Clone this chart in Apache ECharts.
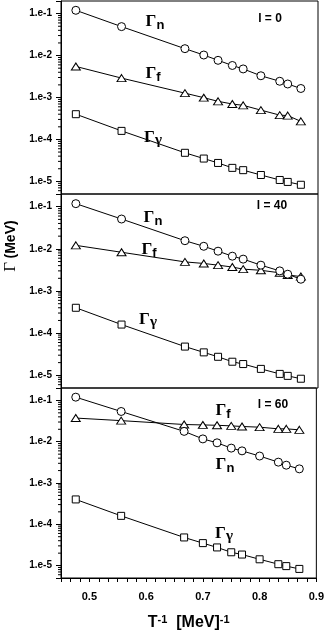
<!DOCTYPE html>
<html>
<head>
<meta charset="utf-8">
<script src="https://cdn.jsdelivr.net/npm/echarts@6/dist/echarts.min.js"></script>
<style>
  html, body { margin: 0; padding: 0; background: #fff; }
  #chart { width: 327px; height: 632px; }
</style>
</head>
<body>
<div id="chart"></div>
<script>
// inverse temperature, [MeV]^-1
const invT = [0.476, 0.556, 0.667, 0.700, 0.725, 0.750, 0.769, 0.800, 0.833, 0.847, 0.870]

// l = 0
const gammaN0 = [0.12, 0.049, 0.0146, 0.0103, 0.0077, 0.0058, 0.0048, 0.0033, 0.00244, 0.0021, 0.00164]
const gammaF0 = [0.0055, 0.0029, 0.00127, 0.00099, 0.00081, 0.0007, 0.00065, 0.0005, 0.00038, 0.00037, 0.00027]
// l = 40
const gammaN40 = [0.118, 0.051, 0.0156, 0.0115, 0.0088, 0.0067, 0.0057, 0.0041, 0.003, 0.0025, 0.0019]
const gammaF40 = [0.0121, 0.0083, 0.0049, 0.0045, 0.0041, 0.0037, 0.0033, 0.0031, 0.0027, 0.0024, 0.0022]
// l = 60
const gammaN60 = [0.12, 0.054, 0.0178, 0.0117, 0.0094, 0.007, 0.006, 0.0045, 0.0032, 0.0027, 0.0022]
const gammaF60 = [0.0374, 0.0324, 0.0261, 0.0255, 0.025, 0.0242, 0.0234, 0.0225, 0.0205, 0.0205, 0.0194]
// gamma width, same in every panel
const gammaG = [4.0e-4, 1.6e-4, 4.8e-5, 3.5e-5, 2.75e-5, 2.1e-5, 1.85e-5, 1.42e-5, 1.08e-5, 9.7e-6, 8.3e-6]

const spinLabels = ['l = 0', 'l = 40', 'l = 60']
const xTickLabels = ['0.5', '0.6', '0.7', '0.8', '0.9']

const yMin = 5e-6
const yMax = 0.2
const FONT = 'Liberation Sans'

const pair = arr => arr.map((v, i) => [invT[i], v])

// log minor ticks 2..9 x 10^d
const minorVals = []
for (let d = -6; d <= -1; d++) {
  for (let k = 2; k <= 9; k++) {
    const v = k * Math.pow(10, d)
    if (v > yMin && v < yMax) minorVals.push([0.45, v])
  }
}

const panels = [
  { n: gammaN0, f: gammaF0, g: gammaG },
  { n: gammaN40, f: gammaF40, g: gammaG },
  { n: gammaN60, f: gammaF60, g: gammaG }
]

const gridTops = [1, 194, 388]
const gridHeights = [193, 194, 194]

const grid = gridTops.map((t, i) => ({
  left: 61, right: 9, top: t, height: gridHeights[i],
  show: true, borderColor: '#000', borderWidth: 1, backgroundColor: 'transparent'
}))

const xAxis = gridTops.map((t, i) => {
  const last = i === 2
  return {
    type: 'value', gridIndex: i, min: 0.45, max: 0.9, interval: 1 / 60,
    show: true,
    axisLine: { show: last, onZero: false, lineStyle: { color: '#000', width: 1 } },
    axisTick: { show: last, length: 4, lineStyle: { color: '#000' } },
    splitLine: { show: false },
    axisLabel: {
      show: last, margin: 13, fontSize: 11, fontWeight: 'bold', fontFamily: FONT, color: '#000',
      formatter: v => {
        const s = v.toFixed(1)
        return (Math.abs(v * 10 - Math.round(v * 10)) < 1e-6 && xTickLabels.indexOf(s) >= 0) ? s : ''
      }
    },
    name: last ? '{b|T}{s|-1}{b|  [MeV]}{s|-1}' : '',
    nameLocation: 'middle',
    nameGap: 36,
    nameTextStyle: {
      rich: {
        b: { fontSize: 16, fontWeight: 'bold', fontFamily: FONT, color: '#000', lineHeight: 18 },
        s: { fontSize: 11, fontWeight: 'bold', fontFamily: FONT, color: '#000', verticalAlign: 'top', lineHeight: 11 }
      }
    }
  }
})

const yAxis = gridTops.map((t, i) => ({
  type: 'log', gridIndex: i, min: yMin, max: yMax, logBase: 10,
  axisLine: { show: true, lineStyle: { color: '#000', width: 1 } },
  axisTick: { show: true, length: 5, lineStyle: { color: '#000' } },
  splitLine: { show: false },
  axisLabel: {
    margin: 9, fontSize: 10, fontWeight: 'bold', fontFamily: FONT, color: '#000',
    formatter: v => {
      const e = Math.log10(v)
      return Math.abs(e - Math.round(e)) < 1e-6 ? '1.e' + Math.round(e) : ''
    }
  }
}))

const lineBase = (data, i, symbol, size) => ({
  type: 'line', xAxisIndex: i, yAxisIndex: i, data: pair(data),
  symbol: symbol, symbolSize: size, showAllSymbol: true,
  lineStyle: { color: '#000', width: 1 },
  itemStyle: { color: '#fff', borderColor: '#000', borderWidth: 1 },
  silent: true
})

const series = []
panels.forEach((p, i) => {
  series.push(lineBase(p.g, i, 'rect', 7))
  series.push(lineBase(p.f, i, 'triangle', [9, 7]))
  series.push(lineBase(p.n, i, 'circle', 8))
  series.push({
    type: 'custom', xAxisIndex: i, yAxisIndex: i, data: minorVals, silent: true,
    renderItem: (params, api) => {
      const pt = api.coord([api.value(0), api.value(1)])
      const x0 = params.coordSys.x
      return {
        type: 'line',
        shape: { x1: x0 - 3, y1: pt[1], x2: x0, y2: pt[1] },
        style: { stroke: '#000', lineWidth: 1 }
      }
    }
  })
})

const gRich = {
  g: { fontFamily: 'Liberation Serif', fontSize: 17, fontWeight: 'bold', color: '#000', lineHeight: 20 },
  s: { fontFamily: FONT, fontSize: 13, fontWeight: 'bold', color: '#000', verticalAlign: 'bottom', lineHeight: 13 },
  y: { fontFamily: 'Liberation Serif', fontSize: 15, fontWeight: 'bold', color: '#000', verticalAlign: 'bottom', lineHeight: 13 }
}

const tag = (x, y, txt) => ({
  type: 'text', x: x, y: y, silent: true,
  style: { text: txt, align: 'center', verticalAlign: 'middle', rich: gRich }
})

const spin = (x, y, txt) => ({
  type: 'text', x: x, y: y, silent: true,
  style: { text: txt, align: 'center', verticalAlign: 'middle', font: 'bold 12px "Liberation Sans"', fill: '#000' }
})

const graphic = [
  tag(155, 22, '{g|Γ}{s|n}'), tag(153, 74, '{g|Γ}{s|f}'), tag(153, 138, '{g|Γ}{y|γ}'),
  tag(153, 218, '{g|Γ}{s|n}'), tag(149, 250, '{g|Γ}{s|f}'), tag(148, 320, '{g|Γ}{y|γ}'),
  tag(223, 411, '{g|Γ}{s|f}'), tag(225, 465, '{g|Γ}{s|n}'), tag(224, 534, '{g|Γ}{y|γ}'),
  spin(270, 19, spinLabels[0]), spin(272, 206, spinLabels[1]), spin(273, 405, spinLabels[2]),
  {
    type: 'text', x: 11, y: 246, rotation: Math.PI / 2, silent: true,
    style: {
      text: '{g|Γ} {b|(MeV)}', align: 'center', verticalAlign: 'middle',
      rich: {
        g: { fontFamily: 'Liberation Serif', fontSize: 17, color: '#000' },
        b: { fontFamily: FONT, fontSize: 14, fontWeight: 'bold', color: '#000' }
      }
    }
  }
]

const chart = echarts.init(document.getElementById('chart'))
chart.setOption({
  animation: false,
  backgroundColor: '#fff',
  grid: grid,
  xAxis: xAxis,
  yAxis: yAxis,
  series: series,
  graphic: graphic
})
</script>
</body>
</html>
